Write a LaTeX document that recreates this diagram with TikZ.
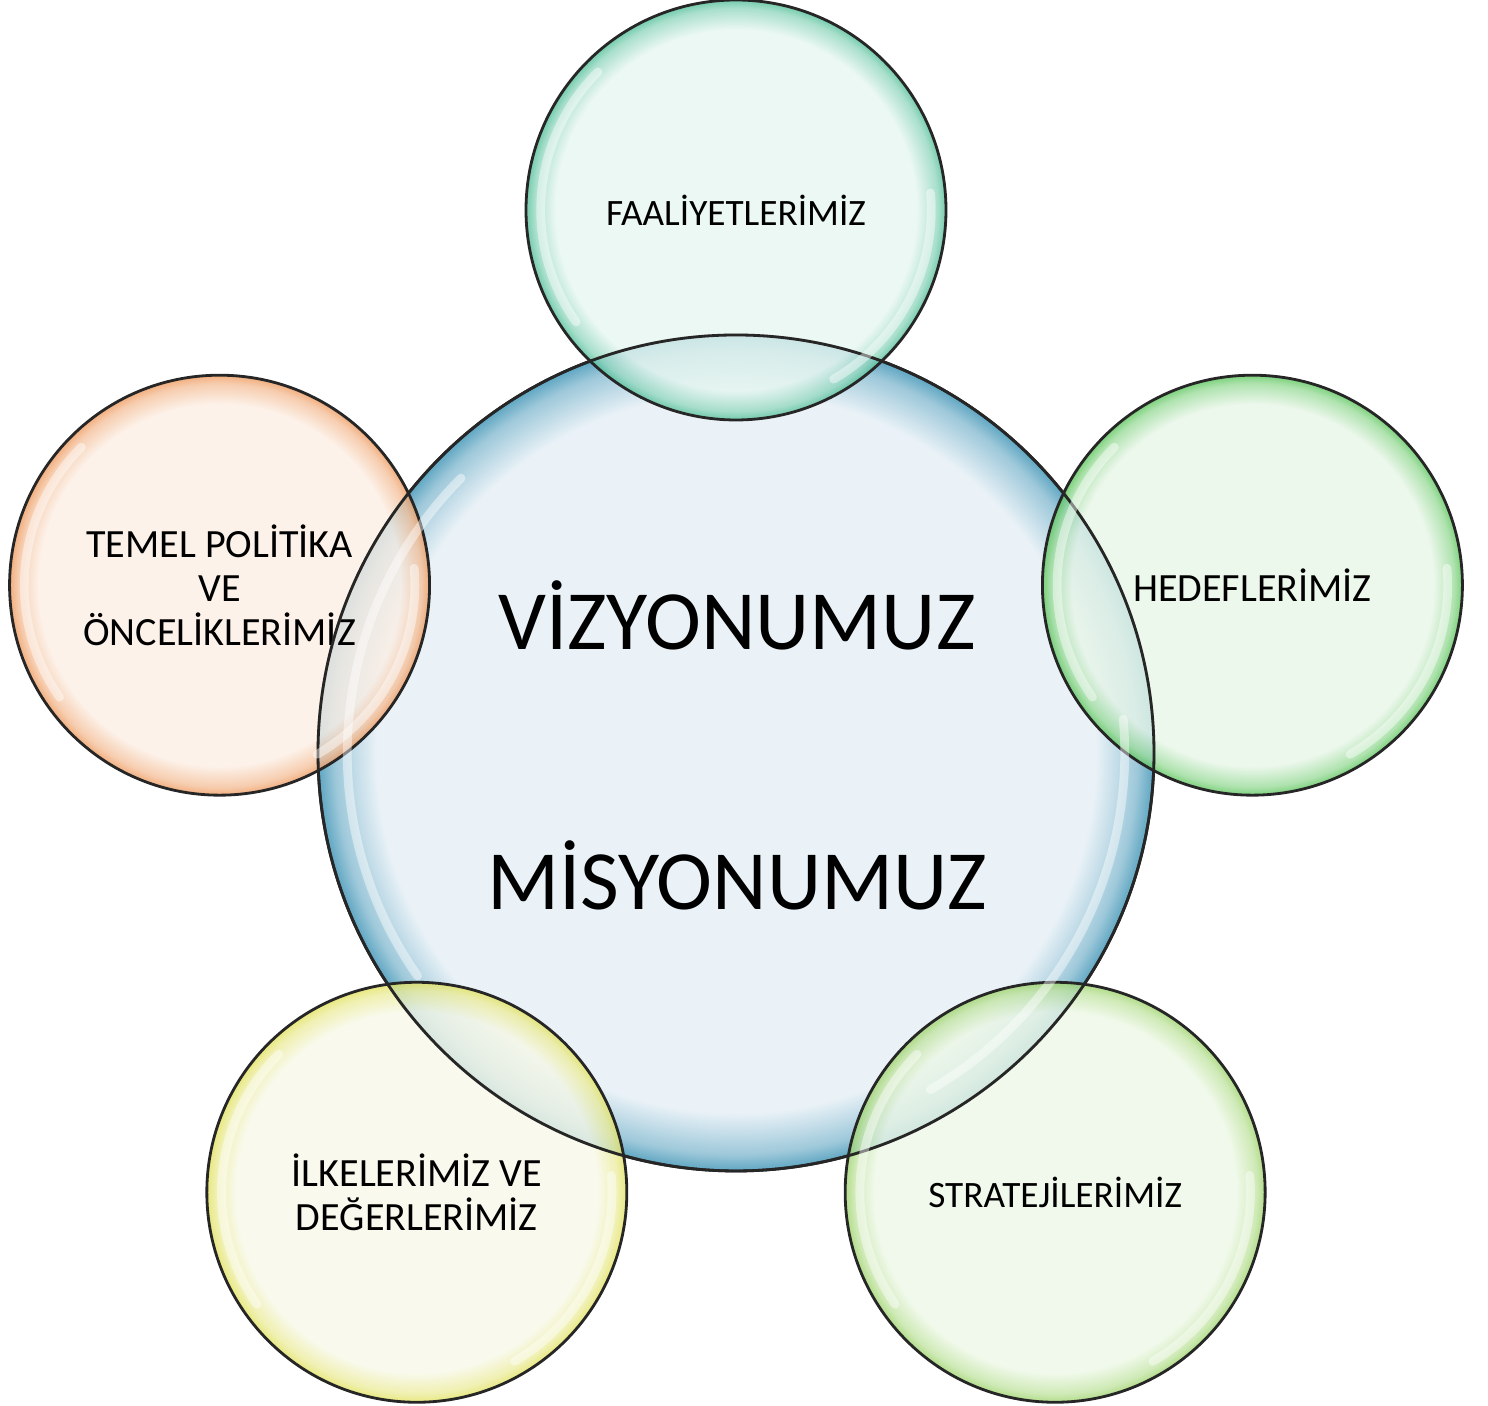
\documentclass[tikz,border=0pt]{standalone}
\usepackage{fontspec}
\setmainfont{Carlito}
\usetikzlibrary{calc}

\definecolor{visfill}{HTML}{EAF2F7}
\definecolor{visedge}{HTML}{5FA6C2}
\definecolor{faalfill}{HTML}{E6F6F0}
\definecolor{faaledge}{HTML}{52BF98}
\definecolor{hedeffill}{HTML}{E9F6E9}
\definecolor{hedefedge}{HTML}{5CC65C}
\definecolor{temelfill}{HTML}{FCEFE5}
\definecolor{temeledge}{HTML}{EE9A5E}
\definecolor{ilkefill}{HTML}{F7F8E8}
\definecolor{ilkeedge}{HTML}{E2E25E}
\definecolor{stratfill}{HTML}{EEF8E7}
\definecolor{stratedge}{HTML}{9ED46C}

% bubble look: pale inside, coloured rim (rim ends at 25bp)
\newcommand{\bubbleshading}[3]{%
  \pgfdeclareradialshading{#1}{\pgfpoint{0bp}{0bp}}{%
    color(0bp)=(#2); color(21.5bp)=(#2); color(24bp)=(#3!55!#2); color(25bp)=(#3); color(50bp)=(#3)}}
\bubbleshading{visshade}{visfill}{visedge}
\bubbleshading{faalshade}{faalfill}{faaledge}
\bubbleshading{hedefshade}{hedeffill}{hedefedge}
\bubbleshading{temelshade}{temelfill}{temeledge}
\bubbleshading{ilkeshade}{ilkefill}{ilkeedge}
\bubbleshading{stratshade}{stratfill}{stratedge}

\begin{document}
\begin{tikzpicture}[
    rim/.style={draw=black!85, line width=0.8pt},
    hub/.style={circle, rim, minimum size=8.36cm, inner sep=0pt},
    bubble/.style={circle, rim, minimum size=4.2cm, inner sep=0pt, align=center,
      fill opacity=0.8, text opacity=1, font=\fontsize{10.6}{12.6}\selectfont},
    larger/.style={font=\fontsize{11.4}{12.6}\selectfont},
    big/.style={anchor=base, font=\fontsize{24}{29}\selectfont},
    gloss/.style={white, line width=2.5pt, opacity=0.45, line cap=round}]
  \useasboundingbox (0,0) rectangle (14.88,14.06);

  % centre
  \node[hub, shading=visshade] (vis) at (7.36,6.53) {};
  \node[big] (vizyon) at (7.37,7.56) {VİZYONUMUZ};
  \node[big] (misyon) at (7.37,4.96) {MİSYONUMUZ};

  % satellites round the centre
  \node[bubble, shading=faalshade]          (faal)  at ([shift={(90:5.43)}]vis.center) {FAALİYETLERİMİZ};
  \node[bubble, larger, shading=hedefshade] (hedef) at ([shift={(18:5.43)}]vis.center) {HEDEFLERİMİZ};
  \node[bubble, shading=stratshade]         (strat) at ([shift={(-54:5.43)}]vis.center) {STRATEJİLERİMİZ};
  \node[bubble, larger, shading=ilkeshade]  (ilke)  at ([shift={(-126:5.43)}]vis.center) {İLKELERİMİZ VE\\DEĞERLERİMİZ};
  \node[bubble, larger, shading=temelshade] (temel) at ([shift={(162:5.43)}]vis.center) {TEMEL POLİTİKA\\VE\\ÖNCELİKLERİMİZ};

  % rim of the centre seen through the satellites
  \draw[rim] (vis.center) circle[radius=4.18cm];

  % highlights
  \foreach \n/\r in {vis/4.18, faal/2.1, hedef/2.1, strat/2.1, ilke/2.1, temel/2.1} {
    \draw[gloss] (\n.center) ++(135:{0.93*\r}) arc[start angle=135, end angle=215, radius={0.93*\r}];
    \draw[gloss] (\n.center) ++(-60:{0.93*\r}) arc[start angle=-60, end angle=5, radius={0.93*\r}];
  }
\end{tikzpicture}
\end{document}
